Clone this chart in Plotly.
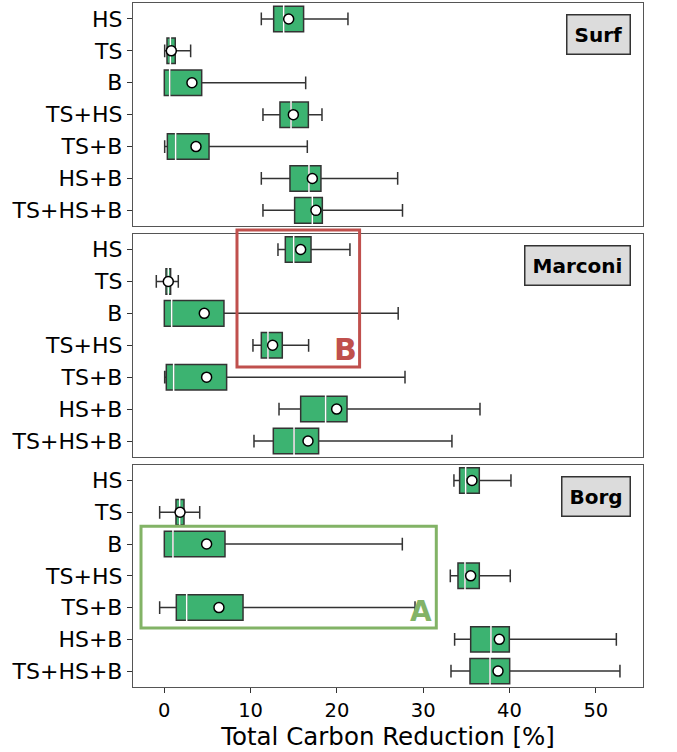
import plotly.graph_objects as go
from plotly.subplots import make_subplots

categories = ["HS", "TS", "B", "TS+HS", "TS+B", "HS+B", "TS+HS+B"]
panels = ["Surf", "Marconi", "Borg"]

# Surf
surf_low = [11.24, 0.04, 0.0, 11.43, 0.04, 11.24, 11.43]
surf_q1 = [12.67, 0.31, 0.0, 13.40, 0.35, 14.56, 15.10]
surf_med = [13.83, 0.70, 0.62, 14.68, 1.31, 16.76, 17.15]
surf_q3 = [16.14, 1.27, 4.33, 16.69, 5.18, 18.15, 18.31]
surf_high = [21.28, 3.05, 16.38, 18.27, 16.57, 27.04, 27.60]
surf_mean = [14.41, 0.81, 3.20, 14.95, 3.67, 17.15, 17.57]

# Marconi
marconi_low = [13.17, -0.93, 0.0, 10.27, 0.04, 13.29, 10.39]
marconi_q1 = [14.02, 0.19, 0.0, 11.24, 0.23, 15.80, 12.63]
marconi_med = [14.99, 0.46, 0.85, 12.01, 1.08, 18.69, 15.03]
marconi_q3 = [17.00, 0.73, 6.91, 13.67, 7.22, 21.17, 17.88]
marconi_high = [21.51, 1.62, 27.10, 16.72, 27.89, 36.58, 33.33]
marconi_mean = [15.80, 0.46, 4.63, 12.55, 4.90, 19.97, 16.65]

# Borg
borg_low = [33.56, -0.54, 0.0, 33.14, -0.54, 33.64, 33.22]
borg_q1 = [34.22, 1.35, 0.0, 34.03, 1.39, 35.50, 35.42]
borg_med = [34.92, 1.78, 1.00, 34.84, 2.59, 37.85, 37.74]
borg_q3 = [36.50, 2.28, 7.03, 36.50, 9.12, 39.98, 40.02]
borg_high = [40.17, 4.10, 27.58, 40.09, 29.05, 52.38, 52.80]
borg_mean = [35.65, 1.82, 4.90, 35.50, 6.33, 38.82, 38.67]

x_ticks = [0, 10, 20, 30, 40, 50]
x_title = "Total Carbon Reduction [%]"

data = [
    (surf_low, surf_q1, surf_med, surf_q3, surf_high, surf_mean),
    (marconi_low, marconi_q1, marconi_med, marconi_q3, marconi_high, marconi_mean),
    (borg_low, borg_q1, borg_med, borg_q3, borg_high, borg_mean),
]

BOX_GREEN = "#3cb371"
EDGE = "#333333"
FRAME = "#555555"
FONT = "DejaVu Sans"

fig = make_subplots(rows=3, cols=1, shared_xaxes=True)

for i, (lo, q1, med, q3, hi, mn) in enumerate(data):
    r = i + 1
    fig.add_trace(go.Box(
        y=categories, q1=q1, median=med, q3=q3,
        lowerfence=lo, upperfence=hi, orientation="h",
        boxpoints=False, width=0.8, whiskerwidth=0.5,
        fillcolor=BOX_GREEN, line=dict(color=EDGE, width=1.5),
        showlegend=False, hoverinfo="skip",
    ), row=r, col=1)
    fig.add_trace(go.Scatter(
        x=med, y=categories, mode="markers",
        marker=dict(symbol="line-ns", size=24, color="white",
                    line=dict(color="white", width=1.5)),
        showlegend=False, hoverinfo="skip",
    ), row=r, col=1)
    fig.add_trace(go.Scatter(
        x=mn, y=categories, mode="markers",
        marker=dict(symbol="circle", size=10, color="white",
                    line=dict(color="black", width=1.5)),
        showlegend=False, hoverinfo="skip",
    ), row=r, col=1)

domains = [[0.6735, 1.0], [0.3363, 0.6629], [0.0, 0.3251]]
for i in range(3):
    yname = "yaxis" if i == 0 else f"yaxis{i+1}"
    xname = "xaxis" if i == 0 else f"xaxis{i+1}"
    fig.layout[yname].update(
        domain=domains[i], type="category", categoryorder="array",
        categoryarray=categories, range=[6.5, -0.5], autorange=False,
        showline=True, mirror=True, linecolor=FRAME, linewidth=1.3,
        ticks="outside", ticklen=5, tickcolor="#333", tickwidth=1,
        tickfont=dict(family=FONT, size=22, color="black"),
        showgrid=False, zeroline=False, fixedrange=True,
    )
    fig.layout[xname].update(
        range=[-3.63, 55.47], autorange=False,
        showline=True, mirror=True, linecolor=FRAME, linewidth=1.3,
        tickvals=x_ticks, showgrid=False, zeroline=False,
        ticks="outside" if i == 2 else "", ticklen=5, tickcolor="#333",
        showticklabels=(i == 2),
        tickfont=dict(family=FONT, size=19.5, color="black"),
    )
fig.layout.xaxis3.title = dict(text=x_title, font=dict(family=FONT, size=24.5, color="black"), standoff=4)

# panel labels
label_pos = [(0.9765, 0.9839), (0.9765, 0.6468), (0.9765, 0.3091)]
for name, (ax, ay) in zip(panels, label_pos):
    fig.add_annotation(
        x=ax, y=ay, xref="paper", yref="paper", xanchor="right", yanchor="top",
        text=f"<b>{name}</b>", showarrow=False,
        font=dict(family=FONT, size=20, color="black"),
        bgcolor="#dcdcdc", bordercolor="#333333", borderwidth=1.5, borderpad=7,
    )

# highlight rectangles
RED = "#c0504d"
GREENR = "#82b366"
fig.add_shape(type="rect", xref="paper", yref="paper",
              x0=0.2039, x1=0.4443, y0=0.4678, y1=0.6681,
              line=dict(color=RED, width=3))
fig.add_annotation(x=0.4443, y=0.4678, xref="paper", yref="paper",
                   xanchor="right", yanchor="bottom", xshift=-1, yshift=-2,
                   text="<b>B</b>", showarrow=False,
                   font=dict(family=FONT, size=30, color=RED))
fig.add_shape(type="rect", xref="paper", yref="paper",
              x0=0.0157, x1=0.5947, y0=0.0863, y1=0.2349,
              line=dict(color=GREENR, width=3))
fig.add_annotation(x=0.5947, y=0.0863, xref="paper", yref="paper",
                   xanchor="right", yanchor="bottom", xshift=-2, yshift=-2,
                   text="<b>A</b>", showarrow=False,
                   font=dict(family=FONT, size=28, color=GREENR))

fig.update_layout(
    width=677, height=752,
    margin=dict(l=133, r=34, t=3, b=65),
    paper_bgcolor="white", plot_bgcolor="white",
    boxmode="overlay",
    font=dict(family=FONT),
)

fig.write_html(
    "out.html",
    config={"displayModeBar": False},
    post_script="document.body.style.margin='0';document.body.style.overflow='hidden';",
)
